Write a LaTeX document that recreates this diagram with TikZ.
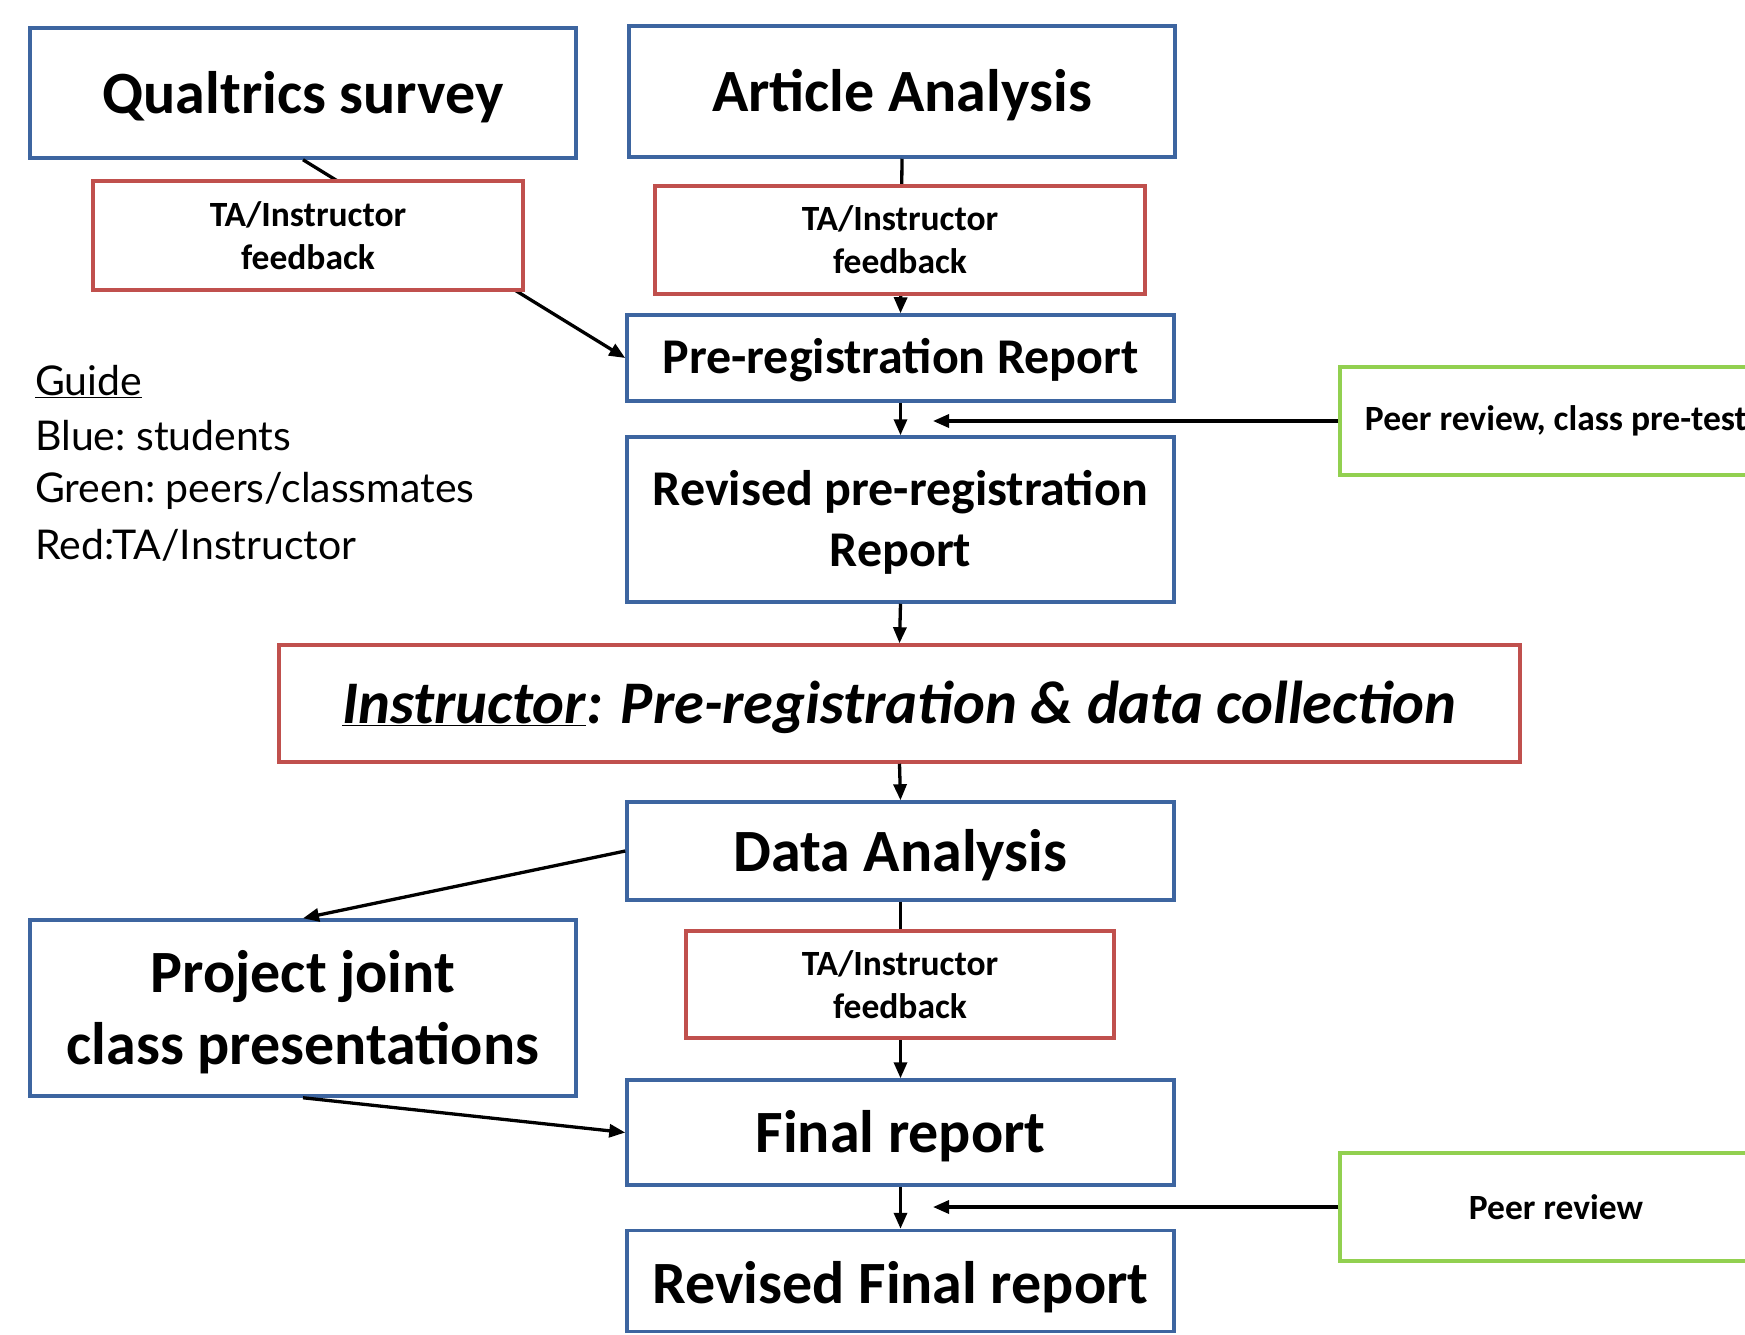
\documentclass[tikz,border=0pt]{standalone}
\usepackage{fontspec}
\setmainfont{Carlito}
\newfontfamily\guidefont{Lato}
\usetikzlibrary{arrows.meta}
\definecolor{bblue}{HTML}{3D65A0}
\definecolor{rred}{HTML}{C0504D}
\definecolor{ggreen}{HTML}{92D050}
\newcommand{\dnbox}[2]{\raisebox{-#1}[\height][\depth]{\begin{tabular}{@{}c@{}}#2\end{tabular}}}
\tikzset{
  box/.style={draw, line width=3.5pt, fill=white, inner sep=0pt, align=center, text=black},
  bluebox/.style={box, draw=bblue},
  redbox/.style={box, draw=rred},
  greenbox/.style={box, draw=ggreen},
  bigtxt/.style={font=\bfseries\fontsize{60}{72}\selectfont},
  midtxt/.style={font=\bfseries\fontsize{50}{61}\selectfont},
  smalltxt/.style={font=\bfseries\fontsize{35.5}{43}\selectfont},
  guidetxt/.style={font=\guidefont\frenchspacing\fontsize{41}{48}\selectfont, anchor=west, inner sep=0pt},
  conn/.style={line width=3.3pt, -{Triangle[length=16pt,width=13pt]}},
}
\begin{document}
\begin{tikzpicture}[x=1pt,y=-1pt]
\useasboundingbox (0,0) rectangle (1745,1334);
\clip (0,0) rectangle (1745,1334);
\fill[white] (0,0) rectangle (1745,1334);
% blue (student) boxes
\node[bluebox, bigtxt, minimum width=546pt, minimum height=130pt] (qual) at (303,93) {\dnbox{6pt}{Qualtrics survey}};
\node[bluebox, bigtxt, minimum width=546pt, minimum height=131pt] (art) at (902,91.5) {\dnbox{6pt}{Article Analysis}};
\node[bluebox, midtxt, minimum width=547pt, minimum height=86pt] (pre) at (900.5,358) {\dnbox{3.5pt}{Pre-registration Report}};
\node[bluebox, midtxt, minimum width=547pt, minimum height=165pt] (rev) at (900.5,519.5) {\dnbox{4.5pt}{Revised pre-registration\\Report}};
\node[redbox, font=\bfseries\itshape\fontsize{60.5}{72}\selectfont, minimum width=1241pt, minimum height=117pt] (ins) at (899.5,703.5) {\dnbox{5.5pt}{\underline{Instructor}: Pre-registration \& data collection}};
\node[bluebox, bigtxt, minimum width=547pt, minimum height=98pt] (da) at (900.5,851) {\dnbox{6pt}{Data Analysis}};
\node[bluebox, bigtxt, minimum width=546pt, minimum height=176pt] (proj) at (303,1008) {\dnbox{6pt}{Project joint\\class presentations}};
\node[bluebox, bigtxt, minimum width=547pt, minimum height=105pt] (fin) at (900.5,1132.5) {\dnbox{6pt}{Final report}};
\node[bluebox, bigtxt, minimum width=547pt, minimum height=101pt] (rfin) at (900.5,1281) {\dnbox{8pt}{Revised Final report}};
% green (peer) boxes
\node[greenbox, smalltxt, minimum width=432pt, minimum height=108pt] (g1) at (1556,421) {Peer review, class pre-test};
\node[greenbox, smalltxt, minimum width=432pt, minimum height=108pt] (g2) at (1556,1207) {Peer review};
\coordinate (t1) at (933,421);
\coordinate (t2) at (933,1207);
% connectors
\draw[conn] (qual.south) -- (pre.west);
\draw[conn] (art.south) -- (pre.north);
\draw[conn] (pre.south) -- (rev.north);
\draw[conn] (g1.west) -- (t1);
\draw[conn] (rev.south) -- (ins.north);
\draw[conn] (ins.south) -- (da.north);
\draw[conn] (da.west) -- (proj.north);
\draw[conn] (proj.south) -- (fin.west);
\draw[conn] (da.south) -- (fin.north);
\draw[conn] (fin.south) -- (rfin.north);
\draw[conn] (g2.west) -- (t2);
% red (TA/instructor) feedback boxes drawn over the connectors
\node[redbox, smalltxt, minimum width=430pt, minimum height=109pt] (fb1) at (308,235.5) {TA/Instructor\\feedback};
\node[redbox, smalltxt, minimum width=490pt, minimum height=108pt] (fb2) at (900,240) {TA/Instructor\\feedback};
\node[redbox, smalltxt, minimum width=428pt, minimum height=107pt] (fb3) at (900,984.5) {TA/Instructor\\feedback};
% guide
\node[guidetxt] (gd) at (35,382) {\underline{Guide}};
\node[guidetxt] (gb) at (35,436) {Blue: students};
\node[guidetxt] (gg) at (35,491) {Green: peers/classmates};
\node[guidetxt] (gr) at (35,545) {Red:TA/Instructor};
\end{tikzpicture}
\end{document}
